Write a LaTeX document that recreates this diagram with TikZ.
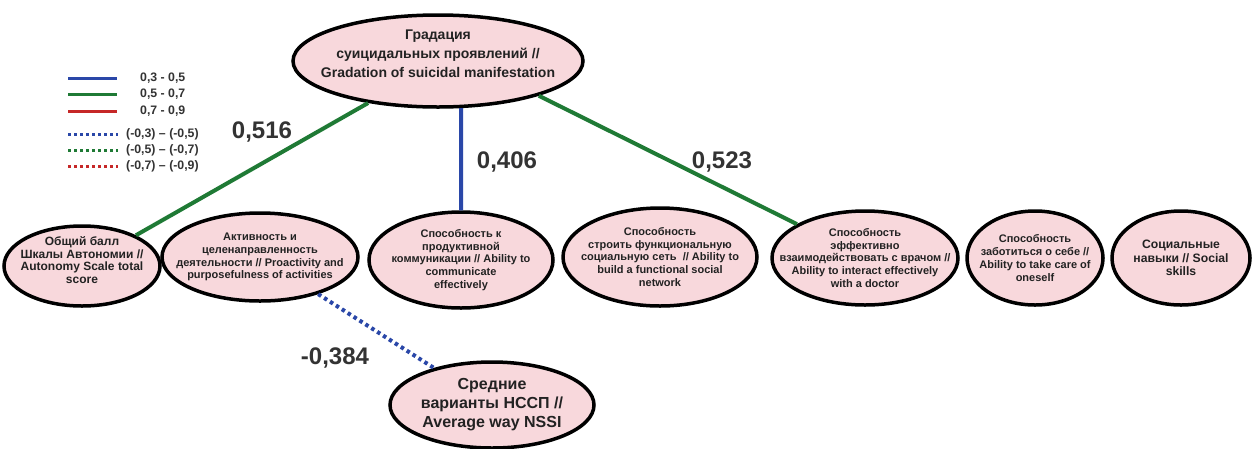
\documentclass[tikz,border=0pt]{standalone}
\usepackage{fontspec}
\setmainfont{Liberation Sans}
\usetikzlibrary{shapes.geometric}
\definecolor{pinkfill}{HTML}{F8D8DC}
\definecolor{cgreen}{HTML}{1F7A35}
\definecolor{cblue}{HTML}{2A47A8}
\definecolor{cred}{HTML}{C62828}
\definecolor{txt}{HTML}{222222}
\definecolor{numtxt}{HTML}{333333}
\tikzset{
  oval/.style={ellipse, draw=black, line width=3.5pt, fill=pinkfill, inner xsep=-60pt, inner ysep=-40pt,
    align=center, text=txt, font=\bfseries\fontsize{11}{12.8}\selectfont},
  ovaltext/.style={align=center, text=txt, inner sep=0pt},
  posgreen/.style={line width=4pt, cgreen},
  posblue/.style={line width=4pt, cblue},
  negblue/.style={line width=4pt, cblue, dash pattern=on 3.5pt off 3.5pt},
  coef/.style={font=\bfseries\fontsize{24}{26}\selectfont, text=numtxt, inner sep=0pt},
  legtxt/.style={font=\bfseries\fontsize{12.3}{13}\selectfont, text=numtxt, anchor=west, inner sep=0pt},
  legsolid/.style={line width=3pt},
  legdot/.style={line width=3pt, dash pattern=on 3pt off 3pt}
}
\begin{document}
\begin{tikzpicture}[x=1pt,y=-1pt]
\useasboundingbox (0,0) rectangle (1257,448);
\fill[white] (0,0) rectangle (1257,448);

% legend
\draw[legsolid, cblue] (68,78) -- (117,78);
\draw[legsolid, cgreen] (68,94) -- (117,94);
\draw[legsolid, cred] (68,111) -- (117,111);
\draw[legdot, cblue] (68,134) -- (118,134);
\draw[legdot, cgreen] (68,150) -- (118,150);
\draw[legdot, cred] (68,166) -- (118,166);
\node[legtxt] (l1) at (140,78) {0,3 - 0,5};
\node[legtxt] (l2) at (140,94) {0,5 - 0,7};
\node[legtxt] (l3) at (140,111) {0,7 - 0,9};
\node[legtxt] (l4) at (126,134) {(-0,3) – (-0,5)};
\node[legtxt] (l5) at (126,150) {(-0,5) – (-0,7)};
\node[legtxt] (l6) at (126,166) {(-0,7) – (-0,9)};

% nodes
\node[oval, minimum width=290pt, minimum height=92pt] (top) at (438,61) {};
\node[ovaltext, font=\bfseries\fontsize{14}{19}\selectfont] (toptext) at (438,54)
  {Градация\\суицидальных проявлений //\\Gradation of suicidal manifestation};
\node[oval, minimum width=156pt, minimum height=80pt] (obsh) at (82,266) {};
\node[ovaltext, font=\bfseries\fontsize{12}{12.8}\selectfont] (obshtext) at (82,260)
  {Общий балл\\Шкалы Автономии //\\Autonomy Scale total\\score};
\node[oval, minimum width=196pt, minimum height=88pt] (act) at (260,257)
  {Активность и\\целенаправленность\\деятельности // Proactivity and\\purposefulness of activities};
\node[oval, minimum width=184pt, minimum height=96pt] (prod) at (461,260)
  {Способность к\\продуктивной\\коммуникации // Ability to\\communicate\\effectively};
\node[oval, minimum width=194pt, minimum height=98pt] (net) at (660,257)
  {Способность\\строить функциональную\\социальную сеть~ // Ability to\\build a functional social\\network};
\node[oval, minimum width=186pt, minimum height=94pt] (doc) at (865,258)
  {Способность\\эффективно\\взаимодействовать с врачом //\\Ability to interact effectively\\with a doctor};
\node[oval, minimum width=136pt, minimum height=94pt] (self) at (1035,258)
  {Способность\\заботиться о себе //\\Ability to take care of\\oneself};
\node[oval, minimum width=138pt, minimum height=94pt, font=\bfseries\fontsize{12.2}{13.3}\selectfont] (soc) at (1181,258)
  {Социальные\\навыки // Social\\skills};
\node[oval, minimum width=204pt, minimum height=86pt, font=\bfseries\fontsize{16}{19}\selectfont] (nssi) at (492,405)
  {Средние\\варианты НССП //\\Average way NSSI};

% connectors
\draw[posgreen] (top.-149) -- (obsh);
\draw[posblue] (top.-64) -- (prod.north);
\draw[posgreen] (top.-19) -- (doc);
\draw[negblue] (act) -- (nssi);

% coefficients
\node[coef] (c1) at (262,132) {0,516};
\node[coef] (c2) at (507,162) {0,406};
\node[coef] (c3) at (722,162) {0,523};
\node[coef] (c4) at (335,358) {-0,384};
\end{tikzpicture}
\end{document}
